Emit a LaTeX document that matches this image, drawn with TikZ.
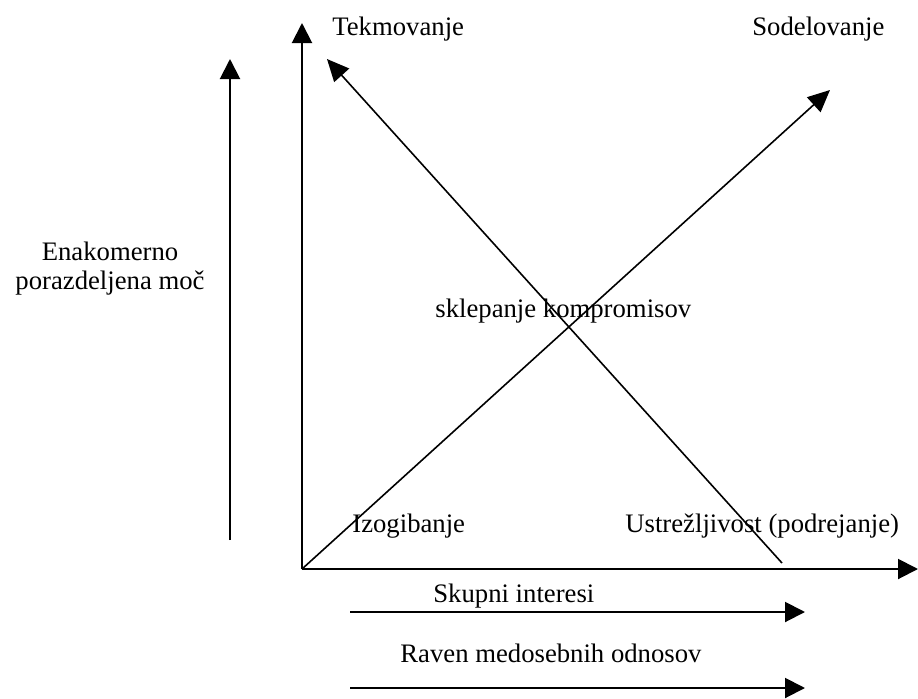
\documentclass[tikz,border=0pt]{standalone}
\usepackage{fontspec}
\setmainfont{Liberation Serif}
\usetikzlibrary{arrows.meta}
\tikzset{
  lbl/.style={inner sep=0pt, anchor=base west, font=\fontsize{13.35}{14.3}\selectfont},
  axisarrow/.style={line width=1pt, -{Triangle[length=10pt,width=10pt]}},
  diagarrow/.style={line width=0.8pt, -{Triangle[length=11pt,width=10pt]}},
}
\begin{document}
\begin{tikzpicture}[x=0.5pt,y=-0.5pt]
\useasboundingbox (0,0) rectangle (918,698);
% coordinates
\coordinate (leftB) at (230,540);
\coordinate (leftT) at (230,59);
\coordinate (O) at (302,569);
\coordinate (yT) at (302,23);
\coordinate (xT) at (918,569);
\coordinate (tekB) at (782,563);
\coordinate (tekT) at (327,59);
\coordinate (sodT) at (830,90);
\coordinate (skA) at (350,612);
\coordinate (skB) at (805,612);
\coordinate (raA) at (350,688);
\coordinate (raB) at (805,688);
% arrows
\draw[axisarrow] (leftB) -- (leftT);
\draw[axisarrow] (O) -- (yT);
\draw[axisarrow] (O) -- (xT);
\draw[diagarrow] (tekB) -- (tekT);
\draw[diagarrow] (O) -- (sodT);
\draw[axisarrow] (skA) -- (skB);
\draw[axisarrow] (raA) -- (raB);
% labels
\node[lbl] (tek) at (332,35) {Tekmovanje};
\node[lbl] (sod) at (752,35) {Sodelovanje};
\node[inner sep=0pt, align=center, font=\fontsize{13.35}{14.3}\selectfont, anchor=base] (ena) at (110,289) {Enakomerno\\porazdeljena moč};
\node[lbl] (skl) at (435,317) {sklepanje kompromisov};
\node[lbl] (izo) at (352,532) {Izogibanje};
\node[lbl] (ust) at (625,532) {Ustrežljivost (podrejanje)};
\node[lbl] (sku) at (433,602) {Skupni interesi};
\node[lbl] (rav) at (400,662) {Raven medosebnih odnosov};
\end{tikzpicture}
\end{document}
